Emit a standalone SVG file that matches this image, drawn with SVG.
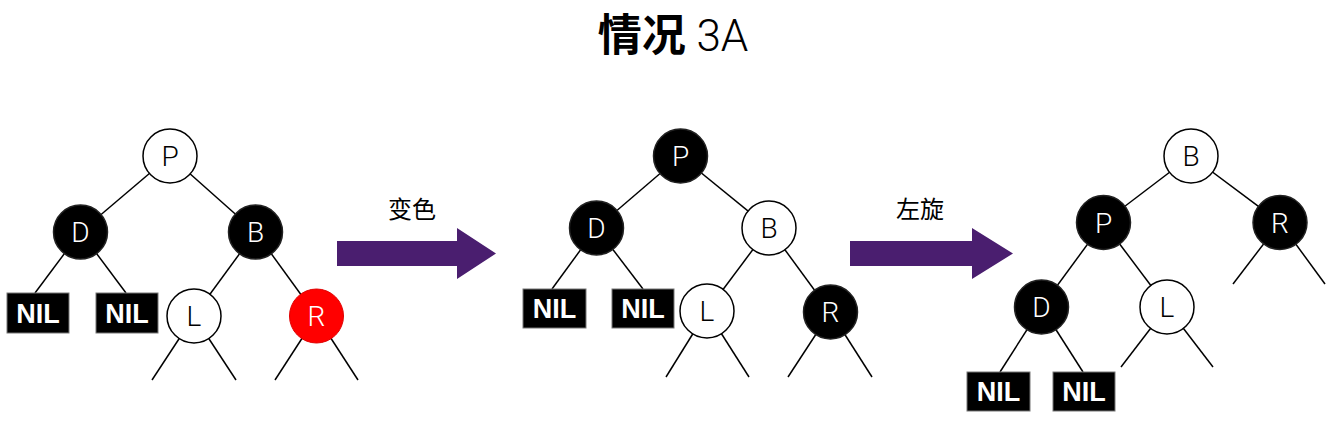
<svg xmlns="http://www.w3.org/2000/svg" width="1343" height="427" viewBox="0 0 1343 427">
<style>
.e{stroke:#000;stroke-width:1.5;fill:none}
.w{fill:#fff;stroke:#000;stroke-width:1.5}
.b{fill:#000;stroke:#222;stroke-width:1.5}
.r{fill:#ff0000;stroke:#e00000;stroke-width:1}
.nil{fill:#000;stroke:#777;stroke-width:1}
.t{font-family:Roboto,"Liberation Sans",sans-serif;font-weight:300;font-size:28px;text-anchor:middle}
.tw{fill:#fff}
.tb{fill:#000}
.nt{font-family:"Liberation Sans",Arial,sans-serif;font-weight:bold;font-size:27px;fill:#fff;text-anchor:middle}
.lab{font-family:"Noto Sans CJK SC",sans-serif;font-size:24px;fill:#000;text-anchor:middle}
.arrow{fill:#4a1e6f}
</style>
<text x="673" y="51" text-anchor="middle" font-size="44"><tspan font-family="'Noto Sans CJK SC',sans-serif" font-weight="bold">情况</tspan><tspan font-family="Roboto,'Liberation Sans',sans-serif" font-weight="300"> 3A</tspan></text>
<g id="connectors">
<!-- tree 1 -->
<line class="e" x1="170" y1="156" x2="80.5" y2="232"/>
<line class="e" x1="170" y1="156" x2="255.5" y2="232"/>
<line class="e" x1="80.5" y1="232" x2="35" y2="293"/>
<line class="e" x1="80.5" y1="232" x2="126" y2="293"/>
<line class="e" x1="255.5" y1="232" x2="194" y2="316"/>
<line class="e" x1="255.5" y1="232" x2="316.5" y2="316"/>
<line class="e" x1="194" y1="316" x2="152" y2="380"/>
<line class="e" x1="194" y1="316" x2="236" y2="380"/>
<line class="e" x1="316.5" y1="316" x2="275" y2="380"/>
<line class="e" x1="316.5" y1="316" x2="358" y2="380"/>
<!-- tree 2 -->
<line class="e" x1="680.5" y1="156" x2="596.5" y2="228"/>
<line class="e" x1="680.5" y1="156" x2="769" y2="228"/>
<line class="e" x1="596.5" y1="228" x2="552" y2="289"/>
<line class="e" x1="596.5" y1="228" x2="643" y2="289"/>
<line class="e" x1="769" y1="228" x2="707" y2="311"/>
<line class="e" x1="769" y1="228" x2="830.5" y2="312"/>
<line class="e" x1="707" y1="311" x2="666" y2="377"/>
<line class="e" x1="707" y1="311" x2="749" y2="377"/>
<line class="e" x1="830.5" y1="312" x2="788" y2="377"/>
<line class="e" x1="830.5" y1="312" x2="872" y2="377"/>
<!-- tree 3 -->
<line class="e" x1="1191" y1="156" x2="1103.5" y2="222.5"/>
<line class="e" x1="1191" y1="156" x2="1280" y2="222.5"/>
<line class="e" x1="1280" y1="222.5" x2="1233" y2="284"/>
<line class="e" x1="1280" y1="222.5" x2="1325" y2="284"/>
<line class="e" x1="1103.5" y1="222.5" x2="1041.5" y2="307"/>
<line class="e" x1="1103.5" y1="222.5" x2="1167" y2="307"/>
<line class="e" x1="1041.5" y1="307" x2="1000" y2="372"/>
<line class="e" x1="1041.5" y1="307" x2="1083" y2="372"/>
<line class="e" x1="1167" y1="307" x2="1121" y2="367"/>
<line class="e" x1="1167" y1="307" x2="1213" y2="367"/>
</g>
<g id="t1-P"><circle class="w" cx="170" cy="156" r="27"/><text class="t tb" x="170" y="166">P</text></g>
<g id="t1-D"><circle class="b" cx="80.5" cy="232" r="27"/><text class="t tw" x="80.5" y="242">D</text></g>
<g id="t1-B"><circle class="b" cx="255.5" cy="232" r="27"/><text class="t tw" x="255.5" y="242">B</text></g>
<g id="t1-L"><circle class="w" cx="194" cy="316" r="27"/><text class="t tb" x="194" y="326">L</text></g>
<g id="t1-R"><circle class="r" cx="316.5" cy="316" r="27"/><text class="t tw" x="316.5" y="326">R</text></g>
<g id="t1-NIL1"><rect class="nil" x="7" y="293" width="62" height="40"/><text class="nt" x="38" y="323">NIL</text></g>
<g id="t1-NIL2"><rect class="nil" x="96" y="293" width="62" height="40"/><text class="nt" x="127" y="323">NIL</text></g>

<g id="arrow1"><polygon class="arrow" points="337,241 457,241 457,228 496,253.5 457,279 457,266 337,266"/><text class="lab" x="412" y="218">变色</text></g>

<g id="t2-P"><circle class="b" cx="680.5" cy="156" r="27"/><text class="t tw" x="680.5" y="166">P</text></g>
<g id="t2-D"><circle class="b" cx="596.5" cy="228" r="27"/><text class="t tw" x="596.5" y="238">D</text></g>
<g id="t2-B"><circle class="w" cx="769" cy="228" r="27"/><text class="t tb" x="769" y="238">B</text></g>
<g id="t2-L"><circle class="w" cx="707" cy="311" r="27"/><text class="t tb" x="707" y="321">L</text></g>
<g id="t2-R"><circle class="b" cx="830.5" cy="312" r="27"/><text class="t tw" x="830.5" y="322">R</text></g>
<g id="t2-NIL1"><rect class="nil" x="523" y="289" width="63" height="39"/><text class="nt" x="554.5" y="318">NIL</text></g>
<g id="t2-NIL2"><rect class="nil" x="612" y="289" width="62" height="39"/><text class="nt" x="643" y="318">NIL</text></g>

<g id="arrow2"><polygon class="arrow" points="850,241 972,241 972,228 1013,253.5 972,279 972,266 850,266"/><text class="lab" x="920" y="218">左旋</text></g>

<g id="t3-B"><circle class="w" cx="1191" cy="156" r="27"/><text class="t tb" x="1191" y="166">B</text></g>
<g id="t3-P"><circle class="b" cx="1103.5" cy="222.5" r="27"/><text class="t tw" x="1103.5" y="232.5">P</text></g>
<g id="t3-R"><circle class="b" cx="1280" cy="222.5" r="27"/><text class="t tw" x="1280" y="232.5">R</text></g>
<g id="t3-D"><circle class="b" cx="1041.5" cy="307" r="27"/><text class="t tw" x="1041.5" y="317">D</text></g>
<g id="t3-L"><circle class="w" cx="1167" cy="307" r="27"/><text class="t tb" x="1167" y="317">L</text></g>
<g id="t3-NIL1"><rect class="nil" x="967" y="372" width="63" height="39"/><text class="nt" x="998.5" y="401">NIL</text></g>
<g id="t3-NIL2"><rect class="nil" x="1053" y="372" width="62" height="39"/><text class="nt" x="1084" y="401">NIL</text></g>
</svg>
